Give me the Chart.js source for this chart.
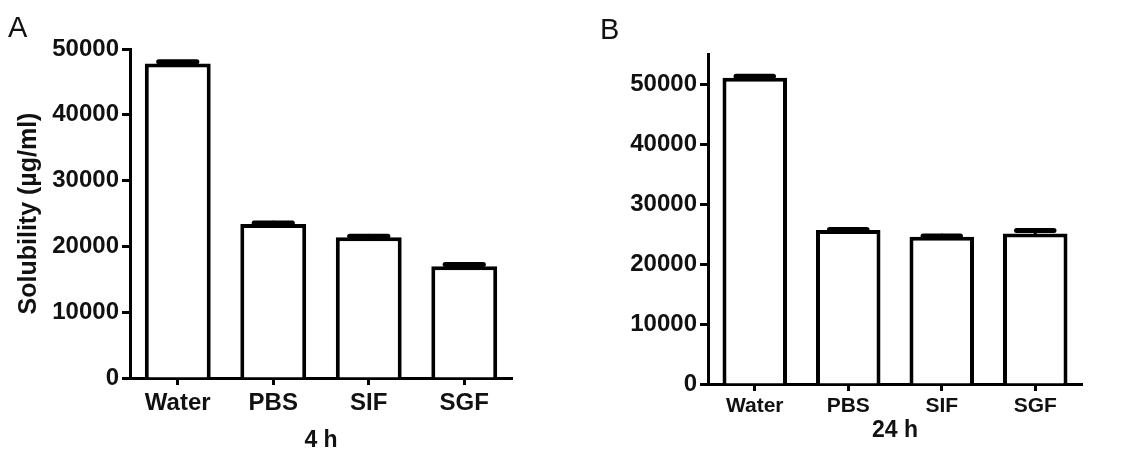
<!DOCTYPE html>
<html>
<head>
<meta charset="utf-8">
<script src="https://cdn.jsdelivr.net/npm/chart.js@4.4.0/dist/chart.umd.min.js"></script>
<style>
  body { margin: 0; background: #fff; }
  #wrap { position: relative; width: 1125px; height: 453px; }
  canvas { position: absolute; top: 0; }
  .panel { position: absolute; font-family: "Liberation Sans", Arial, sans-serif; font-size: 29px; color: #111; }
</style>
</head>
<body>
<div id="wrap">
  <canvas id="chartA" width="560" height="453" style="left:0"></canvas>
  <canvas id="chartB" width="565" height="453" style="left:560px"></canvas>
  <div class="panel" style="left:8px;top:11px">A</div>
  <div class="panel" style="left:600px;top:13px">B</div>
</div>
<script>
const categories = ['Water', 'PBS', 'SIF', 'SGF'];
const solubility4h = [47800, 23400, 21400, 17000];
const error4h = [400, 300, 300, 400];
const solubility24h = [51050, 25650, 24550, 25100];
const error24h = [400, 250, 300, 650];
const yTicks = [0, 10000, 20000, 30000, 40000, 50000];

const font = '"Liberation Sans", Arial, sans-serif';

// draws the upper half of each error bar (line + cap)
const errorBars = {
  id: 'errorBars',
  afterDatasetsDraw(chart, args, opts) {
    const ctx = chart.ctx;
    const y = chart.scales.y;
    const meta = chart.getDatasetMeta(0);
    const vals = chart.data.datasets[0].data;
    ctx.save();
    ctx.strokeStyle = '#000';
    meta.data.forEach((bar, i) => {
      const yTop = y.getPixelForValue(vals[i] + opts.errors[i]);
      const half = bar.width * 0.29;
      ctx.lineWidth = 3;
      ctx.beginPath();
      ctx.moveTo(bar.x, bar.y);
      ctx.lineTo(bar.x, yTop);
      ctx.stroke();
      ctx.lineWidth = 5;
      ctx.lineCap = 'round';
      ctx.beginPath();
      ctx.moveTo(bar.x - half, yTop + 1);
      ctx.lineTo(bar.x + half, yTop + 1);
      ctx.stroke();
    });
    ctx.restore();
  }
};

function makeChart(id, values, errors, cfg) {
  return new Chart(document.getElementById(id), {
    type: 'bar',
    data: {
      labels: categories,
      datasets: [{
        data: values,
        backgroundColor: '#fff',
        borderColor: '#000',
        borderWidth: 4,
        categoryPercentage: 1,
        barPercentage: 0.69
      }]
    },
    plugins: [errorBars],
    options: {
      responsive: false,
      animation: false,
      layout: { padding: cfg.padding },
      plugins: {
        legend: { display: false },
        tooltip: { enabled: false },
        errorBars: { errors: errors }
      },
      scales: {
        x: {
          afterFit: s => { s.height = cfg.xHeight; },
          grid: { display: true, drawOnChartArea: false, offset: false, tickLength: 7, tickWidth: 3, tickColor: '#000' },
          border: { display: true, width: 3, color: '#000' },
          ticks: { color: '#111', padding: cfg.xTickPad, font: { family: font, size: cfg.xTickSize, weight: 'bold' } },
          title: {
            display: true,
            text: cfg.xTitle,
            color: '#111',
            padding: { top: 0, bottom: cfg.xTitlePad },
            font: { family: font, size: 23, weight: 'bold', lineHeight: 1 }
          }
        },
        y: {
          min: 0,
          max: cfg.yMax,
          afterFit: s => { s.width = cfg.yWidth; },
          afterBuildTicks: s => { s.ticks = yTicks.map(v => ({ value: v })); },
          grid: { display: true, drawOnChartArea: false, tickLength: 8, tickWidth: 3, tickColor: '#000' },
          border: { display: true, width: 3, color: '#000' },
          ticks: {
            color: '#111', padding: 3,
            font: { family: font, size: 24, weight: 'bold' },
            callback: v => String(v)
          },
          title: {
            display: !!cfg.yTitle,
            text: cfg.yTitle,
            color: '#111',
            padding: { top: 17, bottom: 0 },
            font: { family: font, size: 25, weight: 'bold', lineHeight: 1 }
          }
        }
      }
    }
  });
}

makeChart('chartA', solubility4h, error4h, {
  padding: { left: 0, right: 48, top: 49, bottom: 0 },
  xHeight: 75, yWidth: 130, yMax: 50000,
  xTitle: '4 h', xTitlePad: 1, xTickSize: 24, xTickPad: 4,
  yTitle: 'Solubility (µg/ml)'
});

makeChart('chartB', solubility24h, error24h, {
  padding: { left: 0, right: 43, top: 54, bottom: 0 },
  xHeight: 69, yWidth: 148, yMax: 55000,
  xTitle: '24 h', xTitlePad: 11, xTickSize: 21, xTickPad: 3,
  yTitle: ''
});
</script>
</body>
</html>
